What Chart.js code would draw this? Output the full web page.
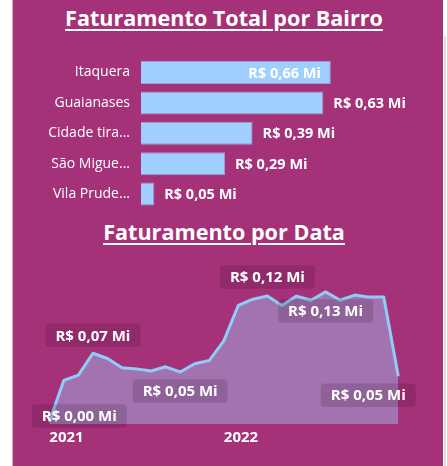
<!DOCTYPE html>
<html><head><meta charset="utf-8">
<script src="https://cdn.jsdelivr.net/npm/chart.js@4.4.1/dist/chart.umd.min.js"></script>
<style>
html,body{margin:0;padding:0;background:#fff;width:447px;height:466px;overflow:hidden;font-family:'Open Sans',sans-serif;}
#panel{position:absolute;left:13px;top:0;width:430px;height:466px;background:#A53278;}
#lline{position:absolute;left:12px;top:0;width:1px;height:466px;background:#b8b8b8;}
#rline{position:absolute;left:444px;top:36px;width:2px;height:430px;background:#dcdcdc;}
.title{position:absolute;left:0;width:448px;text-align:center;color:#fff;font-weight:700;font-size:21.6px;line-height:28px;text-decoration:underline;text-underline-offset:3px;text-decoration-thickness:2px;white-space:nowrap;}
#t1{top:4px}
#t2{top:218px}
canvas{position:absolute;}
#bar{left:13px;top:50px;}
#line{left:13px;top:250px;}
</style></head>
<body>
<div id="lline"></div>
<div id="panel"></div>
<div id="rline"></div>
<div class="title" id="t1">Faturamento Total por Bairro</div>
<div class="title" id="t2">Faturamento por Data</div>
<canvas id="bar" width="430" height="165"></canvas>
<canvas id="line" width="430" height="216"></canvas>
<script>
// ---- data ----
const bairros = ['Itaquera', 'Guaianases', 'Cidade tira...', 'São Migue...', 'Vila Prude...'];
const faturamentoBairro = [0.66, 0.634, 0.388, 0.292, 0.046];

const meses = ['2021-01','2021-02','2021-03','2021-04','2021-05','2021-06','2021-07','2021-08','2021-09','2021-10','2021-11','2021-12',
               '2022-01','2022-02','2022-03','2022-04','2022-05','2022-06','2022-07','2022-08','2022-09','2022-10','2022-11','2022-12','2023-01'];
const faturamentoMes = [0.002, 0.042, 0.047, 0.068, 0.063, 0.054, 0.053, 0.051, 0.055, 0.050, 0.058, 0.061,
                        0.080, 0.114, 0.120, 0.123, 0.114, 0.123, 0.119, 0.127, 0.119, 0.124, 0.122, 0.122, 0.046];
const anosEixo = ['2021', '2022'];
const pontosRotulados = [0, 3, 9, 15, 19, 24];

// ---- helpers / styling ----
const fmt = v => 'R$ ' + v.toFixed(2).replace('.', ',') + ' Mi';
const FONT = "'Open Sans', sans-serif";
const rotuloDesloc = {0:[30,-6], 3:[0,-18], 9:[0,19], 15:[0,-19], 19:[0,19], 24:[-30,19]};

const barLabels = {
  id: 'barLabels',
  afterDatasetsDraw(chart) {
    const ctx = chart.ctx;
    const meta = chart.getDatasetMeta(0);
    const vals = chart.data.datasets[0].data;
    const max = Math.max(...vals);
    ctx.save();
    ctx.font = "bold 14.5px " + FONT;
    ctx.fillStyle = '#fff';
    ctx.textBaseline = 'middle';
    meta.data.forEach((bar, i) => {
      const v = vals[i], t = fmt(v);
      if (v === max) { ctx.textAlign = 'right'; ctx.fillText(t, bar.x - 10, bar.y + 1); }
      else { ctx.textAlign = 'left'; ctx.fillText(t, bar.x + 10, bar.y + 1); }
    });
    ctx.restore();
  }
};

const lineLabels = {
  id: 'lineLabels',
  afterDatasetsDraw(chart) {
    const ctx = chart.ctx;
    const meta = chart.getDatasetMeta(0);
    const vals = chart.data.datasets[0].data;
    ctx.save();
    ctx.font = "bold 15px " + FONT;
    ctx.textAlign = 'center';
    ctx.textBaseline = 'middle';
    pontosRotulados.forEach(i => {
      const p = meta.data[i];
      const [dx, dy] = rotuloDesloc[i];
      const t = fmt(vals[i]);
      const w = ctx.measureText(t).width + 20, h = 23.5;
      const cx = p.x + dx, cy = p.y + dy;
      ctx.fillStyle = 'rgba(35,0,25,0.15)';
      ctx.beginPath();
      ctx.roundRect(cx - w / 2, cy - h / 2, w, h, 4);
      ctx.fill();
      ctx.fillStyle = '#fff';
      ctx.fillText(t, cx, cy + 1);
    });
    ctx.restore();
  }
};

function draw() {
  new Chart(document.getElementById('bar'), {
    type: 'bar',
    data: { labels: bairros, datasets: [{ data: faturamentoBairro, backgroundColor: '#A0CFFE', borderColor: '#9C9ADF', borderWidth: 1, barPercentage: 0.757, categoryPercentage: 1 }] },
    options: {
      indexAxis: 'y', responsive: false, animation: false,
      layout: { padding: { left: 0, right: 0, top: 7.3, bottom: 5.7 } },
      plugins: { legend: { display: false }, tooltip: { enabled: false } },
      scales: {
        x: { display: false, min: 0, max: 1.05 },
        y: {
          grid: { display: false, drawTicks: false }, border: { display: false },
          ticks: { color: '#fff', font: { family: FONT, size: 14 }, padding: 11 },
          afterFit(s) { s.width = 128; s.paddingTop = 0; s.paddingBottom = 0; }
        }
      }
    },
    plugins: [barLabels]
  });

  new Chart(document.getElementById('line'), {
    type: 'line',
    data: { labels: meses, datasets: [{ data: faturamentoMes, borderColor: '#8FCDF8', borderWidth: 3, borderJoinStyle: 'round', fill: 'origin', backgroundColor: '#A372B0', pointRadius: 0, tension: 0 }] },
    options: {
      responsive: false, animation: false,
      layout: { padding: { left: 36.3, right: 44.7, top: 18, bottom: 0 } },
      plugins: { legend: { display: false }, tooltip: { enabled: false } },
      scales: {
        x: {
          grid: { display: false, drawTicks: false }, border: { display: false },
          ticks: {
            autoSkip: false, maxRotation: 0, align: 'start', color: '#fff', padding: 5,
            font: { family: FONT, size: 15, weight: 'bold' },
            callback: (v, i) => (i % 12 === 0 && i / 12 < anosEixo.length) ? anosEixo[i / 12] : ''
          },
          afterFit(s) { s.height = 42; s.paddingLeft = 0; s.paddingRight = 0; }
        },
        y: { display: false, min: 0, max: 0.15 }
      }
    },
    plugins: [lineLabels]
  });
}

Promise.all([
  document.fonts.load("15px 'Open Sans'"),
  document.fonts.load("bold 15px 'Open Sans'")
]).then(draw, draw);
</script>
</body></html>
